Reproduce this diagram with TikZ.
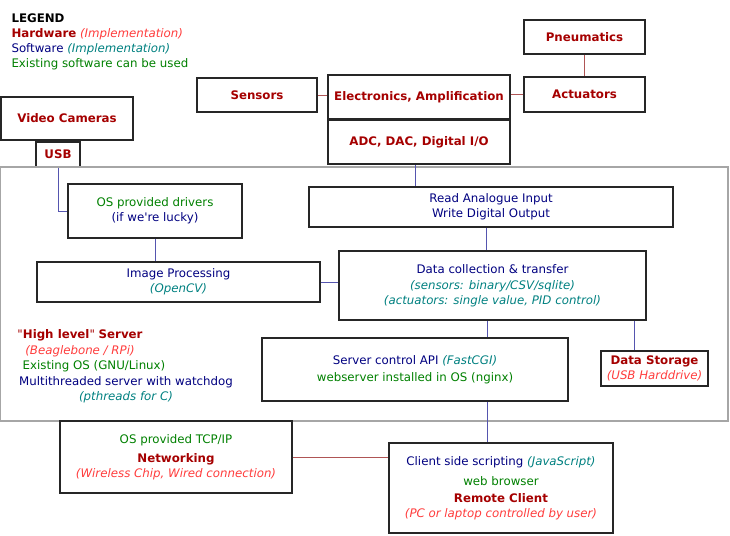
\documentclass[tikz,border=0pt]{standalone}
\usepackage{fontspec}
\setmainfont{DejaVu Sans}
\usepackage{tikz}
\usetikzlibrary{positioning}

\definecolor{hwred}{RGB}{165,0,0}
\definecolor{hwlight}{RGB}{255,60,60}
\definecolor{swblue}{RGB}{0,0,128}
\definecolor{swteal}{RGB}{0,128,128}
\definecolor{exgreen}{RGB}{0,128,0}
\definecolor{hwline}{RGB}{175,85,85}
\definecolor{swline}{RGB}{85,85,175}
\newcommand{\hw}[1]{{\color{hwred}\bfseries #1}}
\newcommand{\hwi}[1]{{\color{hwlight}\itshape #1}}
\newcommand{\sw}[1]{{\color{swblue}#1}}
\newcommand{\swi}[1]{{\color{swteal}\itshape #1}}
\newcommand{\ex}[1]{{\color{exgreen}#1}}

\begin{document}
\begin{tikzpicture}[
    x=1pt, y=-1pt,
    every node/.style={font=\fontsize{11.8}{15}\selectfont, align=center},
    block/.style={draw=black!85, line width=1.5pt, inner sep=0pt},
    hwlink/.style={draw=hwline, line width=1pt},
    swlink/.style={draw=swline, line width=1pt}
]
\useasboundingbox (0,0) rectangle (730,535);

\node[anchor=west, align=left] (legend) at (8,41.5) {\textbf{LEGEND}\\
    \hw{Hardware} \hwi{(Implementation)}\\
    \sw{Software} \swi{(Implementation)}\\
    \ex{Existing software can be used}};

\node[block, minimum width=132, minimum height=43] (vcam) at (67,118.5) {\hw{Video Cameras}};
\node[block, minimum width=44, minimum height=25] (usb) at (58,154.5) {\hw{USB}};
\node[block, minimum width=120, minimum height=34] (sens) at (257,95) {\hw{Sensors}};
\node[block, minimum width=182, minimum height=44] (elec) at (419,97) {\hw{Electronics, Amplification}};
\node[block, minimum width=182, minimum height=44] (adc) at (419,142) {\hw{ADC, DAC, Digital I/O}};
\node[block, minimum width=121, minimum height=34] (pneu) at (584.5,37) {\hw{Pneumatics}};
\node[block, minimum width=121, minimum height=35] (act) at (584.5,94.5) {\hw{Actuators}};

\draw[black!35, line width=1.2pt] (0.5,167) rectangle (728,421);

\node[block, minimum width=364, minimum height=40] (read) at (491,207) {\sw{Read Analogue Input}\\ \sw{Write Digital Output}};
\node[block, minimum width=174, minimum height=54] (drv) at (155,211) {\ex{OS provided drivers}\\ \sw{(if we\textquotesingle re lucky)}};
\node[block, minimum width=283, minimum height=40] (img) at (178.5,282) {\sw{Image Processing}\\ \swi{(OpenCV)}};
\node[block, minimum width=307, minimum height=69] (data) at (492.5,285.5) {\sw{Data collection \& transfer}\\[1pt]
    \swi{(sensors: binary/CSV/sqlite)}\\ \swi{(actuators: single value, PID control)}};
\node[block, minimum width=306, minimum height=63] (api) at (415,369.5) {\sw{Server control API} \swi{(FastCGI)}\\[2pt]
    \ex{webserver installed in OS (nginx)}};
\node[block, minimum width=107, minimum height=35] (store) at (654.5,368.5) {\hw{Data Storage}\\ \hwi{(USB Harddrive)}};

\node (hlserver) at (80,343) {{\color{hwred}\textquotedbl}\hw{High level}{\color{hwred}\textquotedbl} \hw{Server}\\[1pt] \hwi{(Beaglebone / RPi)}};
\node (exos) at (94,366) {\ex{Existing OS (GNU/Linux)}};
\node (mthread) at (126,389.5) {\sw{Multithreaded server with watchdog}\\ \swi{(pthreads for C)}};

\node[block, minimum width=232, minimum height=72] (net) at (176,457) {\ex{OS provided TCP/IP}\\[4pt]
    \hw{Networking}\\ \hwi{(Wireless Chip, Wired connection)}};
\node[block, minimum width=224, minimum height=90] (client) at (501,488) {\sw{Client side scripting} \swi{(JavaScript)}\\[5pt]
    \ex{web browser}\\[2pt] \hw{Remote Client}\\ \hwi{(PC or laptop controlled by user)}};

\draw[hwlink] (sens.east) -- (sens.east -| elec.west);
\draw[hwlink] (act.west) -- (act.west -| elec.east);
\draw[hwlink] (pneu.south) -- (act.north);
\draw[hwlink] (net.east) -- (net.east -| client.west);

\draw[swlink] (usb.south) |- (drv.west);
\draw[swlink] (drv.south) -- (drv.south |- img.north);
\draw[swlink] (img.east) -- (img.east -| data.west);
\draw[swlink] ([xshift=-4pt]adc.south) -- ([xshift=-4pt]adc.south |- read.north);
\draw[swlink] ([xshift=-5pt]read.south) -- ([xshift=-5pt]read.south |- data.north);
\draw[swlink] ([xshift=-5pt]data.south) -- ([xshift=-5pt]data.south |- api.north);
\draw[swlink] ([xshift=-12pt]data.south east) -- ([xshift=-12pt]data.south east |- store.north);
\draw[swlink] ([xshift=72pt]api.south) -- ([xshift=72pt]api.south |- client.north);

\end{tikzpicture}
\end{document}
